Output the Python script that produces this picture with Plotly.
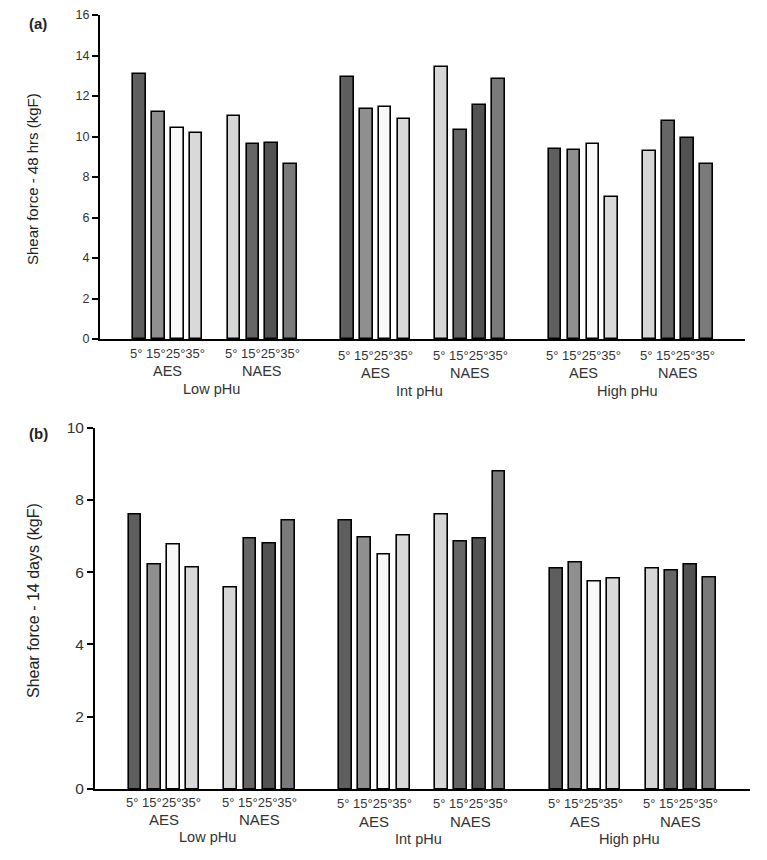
import plotly.graph_objects as go

# ---------------- data ----------------
temps = ["5°", "15°", "25°", "35°"]
systems = ["AES", "NAES"]
phu_groups = ["Low pHu", "Int pHu", "High pHu"]
temp_tick_label = "5° 15°25°35°"

# Shear force at 48 h (kgF): AES 5/15/25/35 then NAES 5/15/25/35
shear48_low = [13.10, 11.20, 10.43, 10.19, 11.01, 9.63, 9.68, 8.64]
shear48_int = [12.94, 11.37, 11.46, 10.88, 13.43, 10.30, 11.54, 12.85]
shear48_high = [9.40, 9.35, 9.61, 7.01, 9.27, 10.78, 9.94, 8.64]

# Shear force at 14 days (kgF)
shear14_low = [7.58, 6.20, 6.75, 6.13, 5.57, 6.93, 6.80, 7.44]
shear14_int = [7.44, 6.97, 6.50, 7.00, 7.60, 6.85, 6.93, 8.78]
shear14_high = [6.10, 6.27, 5.73, 5.83, 6.10, 6.05, 6.22, 5.85]

# ---------------- layout helpers ----------------
PAGE_W, PAGE_H = 767, 860
BODY = 8  # default page body margin
W, H = PAGE_W - 2 * BODY, PAGE_H - 2 * BODY
FONT = "Liberation Sans, Arial, sans-serif"
group_starts = [0, 5, 11, 16, 22, 27]  # slot index of first bar of each (pHu, system) group
aes_colors = ["#5e5e5e", "#8f8f8f", "#f8f8f8", "#d9d9d9"]
naes_colors = ["#d6d6d6", "#666666", "#525252", "#7a7a7a"]

xpos, colors = [], []
for g, s in enumerate(group_starts):
    for i in range(len(temps)):
        xpos.append(s + i)
        colors.append(aes_colors[i] if g % 2 == 0 else naes_colors[i])
group_centers = [s + 1.5 for s in group_starts]
phu_centers = [(group_centers[2 * k] + group_centers[2 * k + 1]) / 2 for k in range(3)]


def px(v):
    return (v - BODY) / W


def py(v):
    return 1 - (v - BODY) / H


fig = go.Figure()
panels = [
    (shear48_low + shear48_int + shear48_high, "x", "y"),
    (shear14_low + shear14_int + shear14_high, "x2", "y2"),
]
for vals, xa, ya in panels:
    fig.add_trace(go.Bar(
        x=xpos, y=vals, xaxis=xa, yaxis=ya, width=0.67,
        marker=dict(color=colors, line=dict(color="black", width=1.6)),
        showlegend=False, hoverinfo="y",
    ))

xcommon = dict(showline=True, linecolor="black", linewidth=1.6, showgrid=False,
               zeroline=False, showticklabels=False, ticks="", automargin=False)
ycommon = dict(showline=True, linecolor="black", linewidth=2, showgrid=False,
               zeroline=False, ticks="outside", ticklen=6, tickwidth=2,
               tickcolor="black", dtick=2, automargin=False)

fig.update_layout(
    width=W, height=H, margin=dict(l=0, r=0, t=0, b=0, autoexpand=False),
    paper_bgcolor="white", plot_bgcolor="white", bargap=0,
    font=dict(family=FONT, color="#333333"),
    xaxis=dict(domain=[px(100), px(745)], range=[-2.09, 32.05], anchor="y", **xcommon),
    yaxis=dict(domain=[py(339), py(15)], range=[0, 16], anchor="x",
               tickfont=dict(size=12.5, color="#333"), **ycommon),
    xaxis2=dict(domain=[px(95), px(750)], range=[-2.09, 32.11], anchor="y2", **xcommon),
    yaxis2=dict(domain=[py(789), py(427.5)], range=[0, 10], anchor="x2",
                tickfont=dict(size=15.5, color="#333"), **ycommon),
)

ann = []


def add(x, y, text, size, xref="paper", angle=0, color="#333"):
    ann.append(dict(x=x, y=y, xref=xref, yref="paper", text=text, textangle=angle,
                    xanchor="center", yanchor="middle", showarrow=False,
                    font=dict(size=size, color=color)))


# panel (a) labels
for k, c in enumerate(group_centers):
    dy = 0 if k < 2 else 2
    add(c, py(353 + dy), temp_tick_label, 13, xref="x")
    add(c, py(371 + dy), systems[k % 2], 14.5, xref="x")
for k, c in enumerate(phu_centers):
    dy = 0 if k == 0 else 2
    add(c - 0.2, py(389 + dy), phu_groups[k], 14.5, xref="x")
# panel (b) labels
for k, c in enumerate(group_centers):
    dy = 0 if k < 2 else 1.5
    add(c, py(802 + dy), temp_tick_label, 13, xref="x2")
    add(c, py(819.5 + dy), systems[k % 2], 15, xref="x2")
for k, c in enumerate(phu_centers):
    dy = 0 if k == 0 else 2
    add(c - 0.2, py(837 + dy), phu_groups[k], 14.5, xref="x2")
# axis titles
add(px(33), py(179), "Shear force - 48 hrs (kgF)", 15, angle=-90, color="#222")
add(px(33), py(601), "Shear force - 14 days (kgF)", 16, angle=-90, color="#222")
# panel tags
add(px(38), py(23), "<b>(a)</b>", 15, color="#222")
add(px(38), py(433), "<b>(b)</b>", 15, color="#222")
fig.update_layout(annotations=ann)

fig.write_html("out.html")
